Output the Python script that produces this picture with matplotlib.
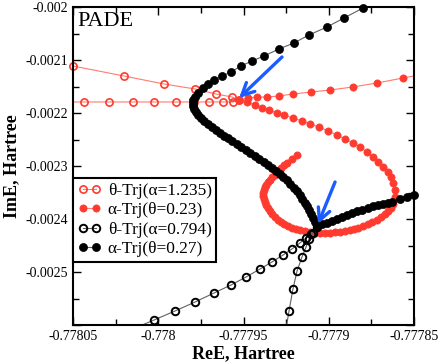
import numpy as np
import matplotlib
matplotlib.use('Agg')
import matplotlib.pyplot as plt
from matplotlib.lines import Line2D

# ==========================================
# 1. DATOS
# ==========================================
# theta-Trj(alpha=1.235), circulos rojos abiertos
th1_re = [-0.7780500, -0.7780201, -0.7779966, -0.7779784, -0.7779661, -0.7779567, -0.7779526,
          -0.7779562, -0.7779620, -0.7779702, -0.7779790, -0.7779896, -0.7780025, -0.7780148,
          -0.7780289, -0.7780435, -0.7780565]
th1_im = [-0.0021113, -0.0021302, -0.0021453, -0.0021547, -0.0021642, -0.0021698, -0.0021755,
          -0.0021792, -0.0021792, -0.0021792, -0.0021792, -0.0021792, -0.0021792, -0.0021792,
          -0.0021792, -0.0021792, -0.0021792]

# alpha-Trj(theta=0.23), circulos rojos llenos
al1_re = [-0.7778406, -0.7778565, -0.7778717, -0.7778858, -0.7778993, -0.7779104, -0.7779210,
          -0.7779292, -0.7779362, -0.7779421, -0.7779474, -0.7779526,
          -0.7779479, -0.7779433, -0.7779392, -0.7779350, -0.7779304, -0.7779262, -0.7779210,
          -0.7779157, -0.7779110, -0.7779057, -0.7779004, -0.7778952, -0.7778905, -0.7778858,
          -0.7778817, -0.7778776, -0.7778740, -0.7778711, -0.7778682, -0.7778652, -0.7778635,
          -0.7778623, -0.7778611, -0.7778611, -0.7778623, -0.7778635, -0.7778652, -0.7778670,
          -0.7778694, -0.7778717, -0.7778746, -0.7778770, -0.7778799, -0.7778828, -0.7778852,
          -0.7778875, -0.7778905, -0.7778934, -0.7778963, -0.7778993, -0.7779022, -0.7779051,
          -0.7779081, -0.7779110, -0.7779139, -0.7779169, -0.7779192, -0.7779216, -0.7779239,
          -0.7779262, -0.7779280, -0.7779298, -0.7779315, -0.7779333, -0.7779345, -0.7779356,
          -0.7779368, -0.7779374, -0.7779380, -0.7779386, -0.7779386, -0.7779380, -0.7779374,
          -0.7779368, -0.7779356, -0.7779345, -0.7779333, -0.7779315, -0.7779304, -0.7779292,
          -0.7779280, -0.7779262, -0.7779245, -0.7779216, -0.7779186]
al1_im = [-0.0021245, -0.0021340, -0.0021434, -0.0021509, -0.0021566, -0.0021604, -0.0021642,
          -0.0021679, -0.0021698, -0.0021698, -0.0021717, -0.0021755,
          -0.0021792, -0.0021849, -0.0021906, -0.0021943, -0.0022000, -0.0022038, -0.0022094,
          -0.0022151, -0.0022208, -0.0022264, -0.0022340, -0.0022415, -0.0022491, -0.0022566,
          -0.0022642, -0.0022736, -0.0022830, -0.0022925, -0.0023019, -0.0023113, -0.0023208,
          -0.0023321, -0.0023453, -0.0023585, -0.0023717, -0.0023792, -0.0023849, -0.0023906,
          -0.0023962, -0.0024019, -0.0024057, -0.0024094, -0.0024132, -0.0024170, -0.0024189,
          -0.0024208, -0.0024226, -0.0024245, -0.0024245, -0.0024264, -0.0024264, -0.0024264,
          -0.0024264, -0.0024245, -0.0024226, -0.0024208, -0.0024189, -0.0024170, -0.0024132,
          -0.0024094, -0.0024057, -0.0024019, -0.0023962, -0.0023906, -0.0023849, -0.0023792,
          -0.0023736, -0.0023679, -0.0023623, -0.0023566, -0.0023509, -0.0023453, -0.0023396,
          -0.0023359, -0.0023302, -0.0023264, -0.0023208, -0.0023170, -0.0023113, -0.0023075,
          -0.0023038, -0.0022981, -0.0022943, -0.0022868, -0.0022792]

# theta-Trj(alpha=0.794), circulos negros abiertos
th2_re = [-0.7780136, -0.7780025, -0.7779902, -0.7779784, -0.7779673, -0.7779573, -0.7779485,
          -0.7779403, -0.7779333, -0.7779268, -0.7779216, -0.7779169, -0.7779133, -0.7779104,
          -0.7779069, -0.7779092, -0.7779116, -0.7779133, -0.7779157, -0.7779186, -0.7779210,
          -0.7779233, -0.7779262]
th2_im = [-0.0026057, -0.0025906, -0.0025736, -0.0025566, -0.0025396, -0.0025245, -0.0025094,
          -0.0024943, -0.0024811, -0.0024679, -0.0024566, -0.0024453, -0.0024358, -0.0024283,
          -0.0024151, -0.0024264, -0.0024377, -0.0024528, -0.0024717, -0.0024981, -0.0025321,
          -0.0025736, -0.0026283]

# alpha-Trj(theta=0.27), circulos negros llenos
al2_re = [-0.7778688, -0.7778799, -0.7778911, -0.7779010, -0.7779116, -0.7779204, -0.7779292,
          -0.7779380, -0.7779450, -0.7779515, -0.7779573, -0.7779626, -0.7779673, -0.7779708,
          -0.7779738, -0.7779767, -0.7779784, -0.7779796, -0.7779796, -0.7779796, -0.7779790,
          -0.7779779, -0.7779767, -0.7779749, -0.7779732, -0.7779708, -0.7779685, -0.7779661,
          -0.7779638, -0.7779614, -0.7779591, -0.7779567, -0.7779538, -0.7779515, -0.7779485,
          -0.7779462, -0.7779433, -0.7779409, -0.7779380, -0.7779356, -0.7779333, -0.7779309,
          -0.7779286, -0.7779268, -0.7779245, -0.7779227, -0.7779204, -0.7779186, -0.7779169,
          -0.7779157, -0.7779139, -0.7779128, -0.7779116, -0.7779104, -0.7779092, -0.7779081,
          -0.7779069, -0.7779040, -0.7779010, -0.7778981, -0.7778952, -0.7778922, -0.7778893,
          -0.7778864, -0.7778834, -0.7778805, -0.7778770, -0.7778740, -0.7778711, -0.7778682,
          -0.7778652, -0.7778629, -0.7778582, -0.7778541, -0.7778500]
al2_im = [-0.0019811, -0.0020019, -0.0020208, -0.0020377, -0.0020528, -0.0020679, -0.0020792,
          -0.0020925, -0.0021019, -0.0021113, -0.0021226, -0.0021302, -0.0021377, -0.0021453,
          -0.0021528, -0.0021623, -0.0021698, -0.0021755, -0.0021811, -0.0021868, -0.0021925,
          -0.0021981, -0.0022038, -0.0022094, -0.0022151, -0.0022208, -0.0022264, -0.0022321,
          -0.0022377, -0.0022434, -0.0022472, -0.0022528, -0.0022585, -0.0022642, -0.0022698,
          -0.0022755, -0.0022811, -0.0022868, -0.0022925, -0.0022981, -0.0023038, -0.0023094,
          -0.0023151, -0.0023208, -0.0023264, -0.0023340, -0.0023415, -0.0023472, -0.0023547,
          -0.0023623, -0.0023698, -0.0023755, -0.0023830, -0.0023906, -0.0023981, -0.0024057,
          -0.0024132, -0.0024094, -0.0024075, -0.0024038, -0.0024000, -0.0023962, -0.0023925,
          -0.0023887, -0.0023849, -0.0023830, -0.0023792, -0.0023755, -0.0023736, -0.0023717,
          -0.0023698, -0.0023679, -0.0023623, -0.0023585, -0.0023547]

# flechas azules (cola -> punta)
arrow_tail = [(-0.7779274, -0.0020943), (-0.7778963, -0.0023302)]
arrow_tip = [(-0.7779526, -0.0021717), (-0.7779063, -0.0024094)]

labels = ['\u03b8-Trj(\u03b1=1.235)', '\u03b1-Trj(\u03b8=0.23)',
          '\u03b8-Trj(\u03b1=0.794)', '\u03b1-Trj(\u03b8=0.27)']

x_ticks = [-0.77805, -0.778, -0.77795, -0.7779, -0.77785]
x_tick_labels = ['-0.77805', '-0.778', '-0.77795', '-0.7779', '-0.77785']
x_minor = [-0.778025, -0.777975, -0.777925, -0.777875]
y_ticks = [-0.0026, -0.0025, -0.0024, -0.0023, -0.0022, -0.0021, -0.002]
y_tick_labels = ['', '-0.0025', '-0.0024', '-0.0023', '-0.0022', '-0.0021', '-0.002']
y_minor = [-0.00255, -0.00245, -0.00235, -0.00225, -0.00215, -0.00205]

XLIM = (-0.77805, -0.77785)
YLIM = (-0.0026, -0.002)

# ==========================================
# 2. GRAFICA
# ==========================================
plt.rcParams['font.family'] = ['Liberation Serif', 'DejaVu Serif']
plt.rcParams['axes.unicode_minus'] = False

fig = plt.figure(figsize=(4.43, 3.63), dpi=100)
ax = fig.add_axes([73 / 443, 38 / 363, 341 / 443, 318 / 363])

RED = '#ff3a2e'
RED_LINE = '#ff7a70'
BLACK = '#000000'
GRAY = '#606060'
BLUE = '#1a5cff'


def serie(xs, ys, mk, mfc, mec, lc, ms, mew):
    xs = np.array(xs)
    ys = np.array(ys)
    # linea recortada por los ejes
    ax.plot(xs, ys, '-', color=lc, lw=0.8)
    # marcadores sin recortar (solo los que caen dentro)
    dentro = (xs >= XLIM[0] - 1e-9) & (xs <= XLIM[1] + 1e-9) & (ys >= YLIM[0] - 1e-9) & (ys <= YLIM[1] + 1e-9)
    ax.plot(xs[dentro], ys[dentro], linestyle='none', marker=mk, ms=ms, mfc=mfc, mec=mec,
            mew=mew, clip_on=False)
    return Line2D([0], [0], color=lc, lw=0.8, marker=mk, ms=ms, mfc=mfc, mec=mec, mew=mew)


h1 = serie(th1_re, th1_im, 'o', 'none', RED, RED_LINE, 5.2, 1.2)
h2 = serie(al1_re, al1_im, 'o', RED, RED, RED_LINE, 5.2, 0.5)
h3 = serie(th2_re, th2_im, 'o', 'none', BLACK, GRAY, 5.4, 1.4)
h4 = serie(al2_re, al2_im, 'o', BLACK, BLACK, GRAY, 5.8, 0.5)

for (xt, yt), (xh, yh) in zip(arrow_tail, arrow_tip):
    ax.annotate('', xy=(xh, yh), xytext=(xt, yt),
                arrowprops=dict(arrowstyle='->', color=BLUE, lw=2.4, mutation_scale=22,
                                shrinkA=0, shrinkB=0))

ax.set_xlim(*XLIM)
ax.set_ylim(*YLIM)
ax.set_xticks(x_ticks)
ax.set_xticklabels(x_tick_labels)
ax.set_xticks(x_minor, minor=True)
ax.set_yticks(y_ticks)
ax.set_yticklabels(y_tick_labels)
ax.set_yticks(y_minor, minor=True)
ax.tick_params(which='both', direction='in', top=True, right=True, labelsize=10, width=1)
ax.tick_params(which='major', length=6)
ax.tick_params(which='minor', length=4.5)
for s in ax.spines.values():
    s.set_linewidth(1.5)

ax.set_xlabel('ReE, Hartree', fontsize=13, fontweight='bold', labelpad=2)
ax.set_ylabel('ImE, Hartree', fontsize=13, fontweight='bold', labelpad=4)

ax.text(0.012, 0.985, 'PADE', transform=ax.transAxes, fontsize=16, va='top', ha='left')

leg = ax.legend([h1, h2, h3, h4], labels, loc='upper left', bbox_to_anchor=(0, 0.462),
                borderaxespad=0, fontsize=12.5, numpoints=2, handlelength=1.35,
                handletextpad=0.4, labelspacing=0.2, borderpad=0.25, fancybox=False,
                framealpha=1, edgecolor='black')
leg.get_frame().set_linewidth(1.5)

fig.savefig('out.png', dpi=100)
